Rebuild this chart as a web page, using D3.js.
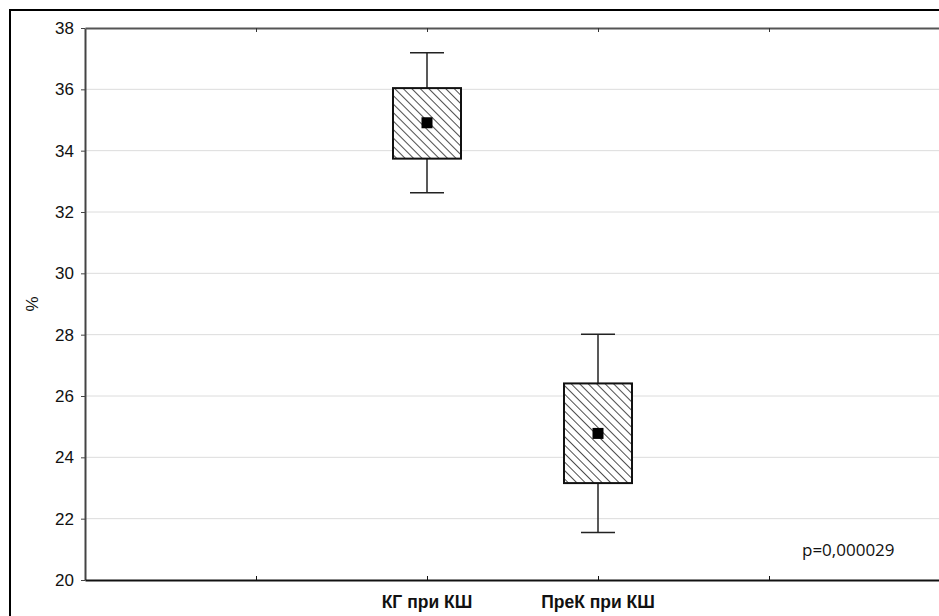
<!DOCTYPE html>
<html>
<head>
<meta charset="utf-8">
<script src="https://cdn.jsdelivr.net/npm/d3@7"></script>
<style>
  body { margin: 0; background: #fff; }
  svg { display: block; }
</style>
</head>
<body>
<div id="chart"></div>
<script>
// groups and their box statistics
const categories = ["КГ при КШ", "ПреК при КШ"];
const categoryPos = [2, 3];
const means = [34.91, 24.78];
const boxLow = [33.74, 23.16];
const boxHigh = [36.04, 26.41];
const whiskerLow = [32.63, 21.55];
const whiskerHigh = [37.19, 28.01];
const yTicks = [20, 22, 24, 26, 28, 30, 32, 34, 36, 38];
const xTicks = [1, 2, 3, 4];
const pText = "p=0,000029";

const width = 939;
const height = 616;
const marginTop = 28;
const marginLeft = 85;
const plotBottom = 580;

const svg = d3.select("#chart")
    .append("svg")
    .attr("width", width)
    .attr("height", height);

// hatch pattern for boxes
const defs = svg.append("defs");
defs.append("pattern")
    .attr("id", "hatch")
    .attr("patternUnits", "userSpaceOnUse")
    .attr("width", 6)
    .attr("height", 6)
    .attr("patternTransform", "rotate(-45)")
    .append("line")
    .attr("x1", 0).attr("y1", 0)
    .attr("x2", 0).attr("y2", 6)
    .attr("stroke", "#444")
    .attr("stroke-width", 1.9);

// outer frame
svg.append("rect")
    .attr("x", 10).attr("y", 10)
    .attr("width", width + 20).attr("height", height + 20)
    .attr("fill", "none")
    .attr("stroke", "#000")
    .attr("stroke-width", 2);

const x = d3.scaleLinear([0, 5], [marginLeft, marginLeft + 5 * 171]);
const y = d3.scaleLinear([20, 38], [plotBottom, marginTop]);

// grid lines
svg.append("g")
    .selectAll("line")
    .data(yTicks.filter(d => d > 20 && d < 38))
    .join("line")
    .attr("x1", marginLeft).attr("x2", width)
    .attr("y1", d => y(d)).attr("y2", d => y(d))
    .attr("stroke", "#dcdcdc")
    .attr("stroke-width", 1);

// left axis
svg.append("g")
    .attr("transform", `translate(${marginLeft},0)`)
    .call(d3.axisLeft(y).tickValues(yTicks).tickSize(4).tickSizeOuter(0).tickPadding(7))
    .call(g => g.select(".domain").attr("stroke", "#444").attr("stroke-width", 2))
    .call(g => g.selectAll(".tick line").attr("stroke", "#444"))
    .call(g => g.selectAll(".tick text")
        .attr("font-family", "Liberation Sans, Arial, sans-serif")
        .attr("font-size", 17)
        .attr("fill", "#111"));

// bottom axis
svg.append("g")
    .attr("transform", `translate(0,${plotBottom})`)
    .call(d3.axisTop(x).tickValues(xTicks).tickSize(4).tickSizeOuter(0).tickFormat(""))
    .call(g => g.select(".domain").attr("stroke", "#111").attr("stroke-width", 2))
    .call(g => g.selectAll(".tick line").attr("stroke", "#111"));

// top axis
svg.append("g")
    .attr("transform", `translate(0,${marginTop})`)
    .call(d3.axisBottom(x).tickValues(xTicks).tickSize(4).tickSizeOuter(0).tickFormat(""))
    .call(g => g.select(".domain").attr("stroke", "#555").attr("stroke-width", 2))
    .call(g => g.selectAll(".tick line").attr("stroke", "#333"));

// category labels
svg.append("g")
    .selectAll("text")
    .data(categories)
    .join("text")
    .attr("x", (d, i) => x(categoryPos[i]))
    .attr("y", 608)
    .attr("text-anchor", "middle")
    .attr("font-family", "Liberation Sans, Arial, sans-serif")
    .attr("font-weight", "bold")
    .attr("font-size", 17.5)
    .attr("fill", "#111")
    .text(d => d);

// y axis title
svg.append("text")
    .attr("transform", `translate(38,${y(29)}) rotate(-90)`)
    .attr("text-anchor", "middle")
    .attr("font-family", "Liberation Sans, Arial, sans-serif")
    .attr("font-size", 17)
    .attr("fill", "#111")
    .text("%");

// boxes
const boxW = 68;
const capW = 34;
const groups = svg.append("g")
    .selectAll("g")
    .data(categories)
    .join("g");

groups.append("line")
    .attr("x1", (d, i) => x(categoryPos[i])).attr("x2", (d, i) => x(categoryPos[i]))
    .attr("y1", (d, i) => y(whiskerHigh[i])).attr("y2", (d, i) => y(whiskerLow[i]))
    .attr("stroke", "#222").attr("stroke-width", 1.5);

groups.append("line")
    .attr("x1", (d, i) => x(categoryPos[i]) - capW / 2).attr("x2", (d, i) => x(categoryPos[i]) + capW / 2)
    .attr("y1", (d, i) => y(whiskerHigh[i])).attr("y2", (d, i) => y(whiskerHigh[i]))
    .attr("stroke", "#222").attr("stroke-width", 1.5);

groups.append("line")
    .attr("x1", (d, i) => x(categoryPos[i]) - capW / 2).attr("x2", (d, i) => x(categoryPos[i]) + capW / 2)
    .attr("y1", (d, i) => y(whiskerLow[i])).attr("y2", (d, i) => y(whiskerLow[i]))
    .attr("stroke", "#222").attr("stroke-width", 1.5);

groups.append("rect")
    .attr("x", (d, i) => x(categoryPos[i]) - boxW / 2)
    .attr("y", (d, i) => y(boxHigh[i]))
    .attr("width", boxW)
    .attr("height", (d, i) => y(boxLow[i]) - y(boxHigh[i]))
    .attr("fill", "#fff");

groups.append("rect")
    .attr("x", (d, i) => x(categoryPos[i]) - boxW / 2)
    .attr("y", (d, i) => y(boxHigh[i]))
    .attr("width", boxW)
    .attr("height", (d, i) => y(boxLow[i]) - y(boxHigh[i]))
    .attr("fill", "url(#hatch)")
    .attr("stroke", "#111")
    .attr("stroke-width", 2);

groups.append("rect")
    .attr("x", (d, i) => x(categoryPos[i]) - 5.5)
    .attr("y", (d, i) => y(means[i]) - 5.5)
    .attr("width", 11)
    .attr("height", 11)
    .attr("fill", "#000");

// p-value note
svg.append("text")
    .attr("x", 802)
    .attr("y", 556)
    .attr("font-family", "Open Sans, sans-serif")
    .attr("font-size", 17)
    .attr("fill", "#111")
    .text(pText);
</script>
</body>
</html>
